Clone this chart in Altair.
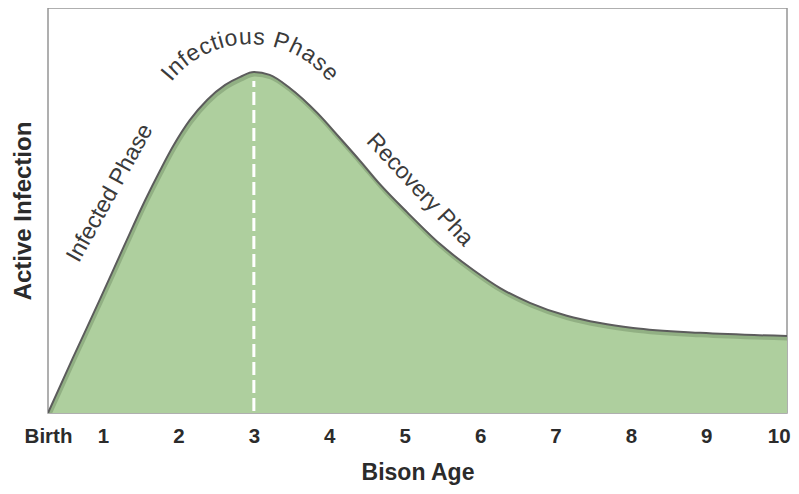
import math
import altair as alt
import pandas as pd

# ---- data ----
age = [0.27, 0.60, 0.96, 1.29, 1.56, 1.76, 1.93, 2.15, 2.38, 2.62, 2.82, 3.00,
       3.21, 3.48, 3.84, 4.14, 4.41, 4.67, 5.03, 5.47, 5.91, 6.26, 6.66, 7.15,
       7.59, 8.03, 8.92, 10.07]
infection = [0.0, 13.6, 28.1, 41.7, 52.6, 60.0, 65.9, 72.3, 77.3, 81.0, 83.0, 84.2,
             83.5, 80.2, 74.1, 67.9, 62.2, 56.5, 49.6, 41.7, 35.3, 30.9, 27.2, 24.0,
             22.2, 21.0, 19.8, 19.0]
tick_values = [0.27, 1, 2, 3, 4, 5, 6, 7, 8, 9, 10]
tick_labels = ["Birth", "1", "2", "3", "4", "5", "6", "7", "8", "9", "10"]
peak_age = [3]
dash_bottom = [0.5]
dash_top = [82]

# straight phase labels (anchor in data units, rotation in degrees)
phase_labels = ["Infected Phase", "Recovery Pha"]
phase_age = [1.09, 5.20]
phase_level = [54.3, 55.1]
phase_angle = [299, 47]

arc_label = "Infectious Phase"

# ---- layout ----
W, H = 739, 405
PAD = {"left": 40, "top": 0, "right": 4, "bottom": 73}
X_DOM = [0.27, 10.07]
Y_DOM = [0, 100]
FONT = "Liberation Sans"
FILL = "#aecf9e"
TXT = "#3a3a3a"


def px_to_age(px):
    return X_DOM[0] + (px - (8 + PAD["left"])) / W * (X_DOM[1] - X_DOM[0])


def py_to_level(py):
    return Y_DOM[1] - (py - (8 + PAD["top"])) / H * (Y_DOM[1] - Y_DOM[0])


# curved label along a circular arc (pixel geometry)
adv = {"I": 278, "n": 556, "f": 278, "e": 556, "c": 500, "t": 278, "i": 222,
       "o": 556, "u": 556, "s": 500, " ": 278, "P": 667, "h": 556, "a": 556}
cx, cy, r = 250.0, 144.5, 107.5
t0, t1 = -49.7, 48.2
centers, acc = [], 0
for ch in arc_label:
    centers.append(acc + adv[ch] / 2)
    acc += adv[ch]
rows = []
for ch, c in zip(arc_label, centers):
    if ch == " ":
        continue
    th = t0 + (c - centers[0]) / (centers[-1] - centers[0]) * (t1 - t0)
    px = cx + r * math.sin(math.radians(th))
    py = cy - r * math.cos(math.radians(th))
    rows.append({"age": px_to_age(px), "infection": py_to_level(py),
                 "label": ch, "ang": th % 360})
arc_df = pd.DataFrame(rows)

df = pd.DataFrame({"age": age, "infection": infection})
rule_df = pd.DataFrame({"age": peak_age, "infection": dash_bottom, "infection2": dash_top})
lab_df = pd.DataFrame({"age": phase_age, "infection": phase_level,
                       "label": phase_labels, "ang": phase_angle})

label_map = "{" + ",".join(f"'{v}':'{l}'" for v, l in zip(tick_values, tick_labels)) + "}"

x_axis = alt.Axis(
    values=tick_values,
    labelExpr=f"{label_map}[toString(datum.value)]",
    labelFont=FONT, labelFontSize=20.5, labelFontWeight="bold", labelColor="#2b2b2b",
    labelPadding=23, labelBaseline="middle", labelFlush=False, labelOverlap=False,
    labelBound=False, ticks=False, tickSize=0, domain=False, grid=False,
    labelOffset={"condition": {"test": "datum.value == 10", "value": -3}, "value": 0},
    title="Bison Age", titleFont=FONT, titleFontSize=23, titleFontWeight="bold",
    titleColor="#2b2b2b", titleX=W / 2, titleY=66, titleAlign="center",
    titleBaseline="alphabetic",
)
y_axis = alt.Axis(
    labels=False, ticks=False, tickSize=0, domain=False, grid=False,
    title="Active Infection", titleFont=FONT, titleFontSize=24, titleFontWeight="bold",
    titleColor="#2b2b2b", titleAngle=270, titleX=-25, titleY=H / 2,
    titleAlign="center", titleBaseline="middle",
)
xs = alt.Scale(domain=X_DOM, nice=False, zero=False)
ys = alt.Scale(domain=Y_DOM, nice=False)


def X():
    return alt.X("age:Q", scale=xs, axis=x_axis)


def Y():
    return alt.Y("infection:Q", scale=ys, axis=y_axis)


area = alt.Chart(df).mark_area(color=FILL, interpolate="monotone", clip=True).encode(x=X(), y=Y())
shadow = alt.Chart(df).mark_line(interpolate="monotone", color="#6e8a62", strokeWidth=4,
                                 opacity=0.45, yOffset=2.5, xOffset=1, clip=True).encode(x=X(), y=Y())
outline = alt.Chart(df).mark_line(interpolate="monotone", color="#5c5c5c", strokeWidth=2,
                                  clip=True).encode(x=X(), y=Y())
rule = alt.Chart(rule_df).mark_rule(color="white", strokeWidth=3, strokeDash=[13, 5]).encode(
    x=X(), y=Y(), y2="infection2:Q")
labels = alt.Chart(lab_df).mark_text(font=FONT, fontSize=23, color=TXT, align="center",
                                     baseline="middle").encode(
    x=X(), y=Y(), text="label:N", angle=alt.Angle("ang:Q", scale=None))
arc = alt.Chart(arc_df).mark_text(font=FONT, fontSize=23, color=TXT, align="center",
                                  baseline="middle").encode(
    x=X(), y=Y(), text="label:N", angle=alt.Angle("ang:Q", scale=None))

chart = alt.layer(area, shadow, outline, rule, labels, arc).properties(
    width=W, height=H, autosize=alt.AutoSizeParams(type="none"), padding=PAD,
    background="white",
).configure_view(stroke="#959595", strokeWidth=1.5)

chart.save("out.html", embed_options={"renderer": "svg", "actions": False})
